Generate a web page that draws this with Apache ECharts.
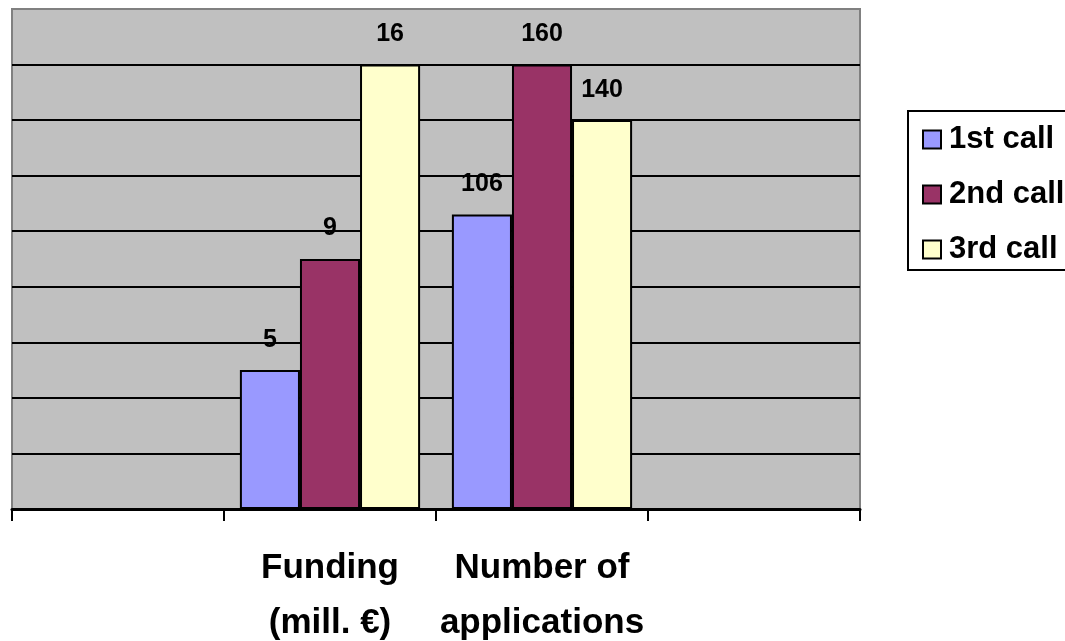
<!DOCTYPE html>
<html>
<head>
<meta charset="utf-8">
<script src="https://cdn.jsdelivr.net/npm/echarts@6/dist/echarts.min.js"></script>
<style>
  html, body { margin: 0; padding: 0; background: #ffffff; }
  #chart { width: 1065px; height: 641px; }
</style>
</head>
<body>
<div id="chart"></div>
<script>
// ---- data ----
const categories = ['', 'Funding\n(mill. €)', 'Number of\napplications', ''];
const seriesNames = ['1st call', '2nd call', '3rd call'];
const fundingValues = [5, 9, 16];          // mill. €, per call
const applicationValues = [106, 160, 140]; // number of applications, per call
// The original plots funding on the applications scale (16 reaches the same height as 160)
const fundingScale = 10;
const colors = ['#9999FF', '#993366', '#FFFFCC'];

const FONT = 'Liberation Sans, Arial, Helvetica, sans-serif';

const series = seriesNames.map((name, i) => ({
  name: name,
  type: 'bar',
  barGap: '0%',
  barCategoryGap: '15%',
  itemStyle: { color: colors[i], borderColor: '#000000', borderWidth: 2 },
  label: {
    show: true,
    position: 'top',
    distance: 18,
    color: '#000000',
    fontFamily: FONT,
    fontWeight: 'bold',
    fontSize: 25,
    formatter: (p) => p.dataIndex === 1 ? String(fundingValues[i]) : String(applicationValues[i])
  },
  data: ['-', fundingValues[i] * fundingScale, applicationValues[i], '-']
}));

const chart = echarts.init(document.getElementById('chart'), null, { renderer: 'canvas' });
chart.setOption({
  backgroundColor: '#ffffff',
  animation: false,
  color: colors,
  grid: {
    left: 12, right: 205, top: 9, bottom: 132,
    containLabel: false,
    outerBoundsMode: 'none',
    show: true,
    backgroundColor: '#C0C0C0',
    borderColor: '#808080',
    borderWidth: 2
  },
  legend: {
    orient: 'vertical',
    left: 908,
    top: 111,
    padding: [13, 30, 5, 14],
    itemWidth: 18,
    itemHeight: 18,
    itemGap: 24,
    icon: 'rect',
    borderColor: '#000000',
    borderWidth: 2,
    backgroundColor: '#ffffff',
    textStyle: { color: '#000000', fontFamily: FONT, fontWeight: 'bold', fontSize: 31, lineHeight: 31, padding: [0, 0, 0, 3] },
    data: seriesNames
  },
  xAxis: {
    type: 'category',
    data: categories,
    boundaryGap: true,
    axisLine: { show: true, lineStyle: { color: '#000000', width: 3 } },
    axisTick: { show: true, alignWithLabel: false, length: 12, lineStyle: { color: '#000000', width: 2 } },
    axisLabel: {
      interval: 0,
      margin: 32,
      color: '#000000',
      fontFamily: FONT,
      fontWeight: 'bold',
      fontSize: 35,
      lineHeight: 55
    }
  },
  yAxis: {
    type: 'value',
    min: 0,
    max: 180,
    interval: 20,
    axisLine: { show: false },
    axisTick: { show: false },
    axisLabel: { show: false },
    splitLine: { show: true, showMaxLine: false, lineStyle: { color: '#000000', width: 2 } }
  },
  series: series
});
</script>
</body>
</html>
